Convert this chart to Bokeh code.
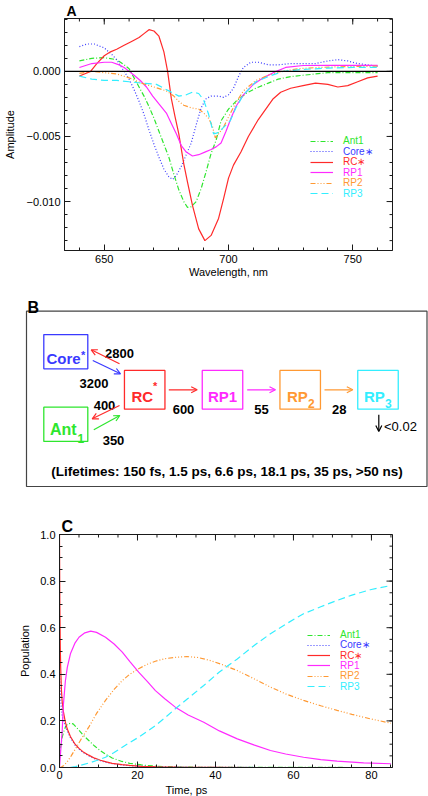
from bokeh.plotting import figure
from bokeh.models import (Range1d, FixedTicker, Span, Legend, LegendItem, Title,
                          Arrow, OpenHead, NumeralTickFormatter, CustomJSTickFormatter)
from bokeh.embed import file_html
from bokeh.resources import INLINE
from bokeh.core.properties import value

FONT = "Liberation Sans"
INK = "#1a1a1a"

# ---------------- series ----------------
names = ["Ant1", "Core\u2217", "RC\u2217", "RP1", "RP2", "RP3"]
colors = ["#2ee62e", "#3a3aff", "#ff2a2a", "#ff2aff", "#ff9933", "#33eeff"]
dashes = ["5 2 1 2", "1 2", "solid", "solid", "5 2 1 2 1 2 1 2", "7 4"]

# ---------------- panel A: spectra ----------------
ant1_wl = [640, 645, 650, 655, 658, 660, 662, 664, 666, 668, 670, 672, 674, 676, 678, 680, 682, 683.5, 685, 687,
           689, 691, 693, 695, 697, 700, 703, 707, 711, 716, 720, 725, 730, 740, 750, 760]
ant1_amp = [0.0008, 0.0010, 0.00105, 0.0009, 0.0005, 0.0002, -0.0005, -0.0012, -0.0019, -0.0027,
            -0.0036, -0.0046, -0.0056, -0.0066, -0.0079, -0.0091, -0.0100, -0.01045, -0.0104, -0.0100,
            -0.0090, -0.0077, -0.0063, -0.0053, -0.0038, -0.0029, -0.0023, -0.0017, -0.0013, -0.0009,
            -0.0006, -0.0004, -0.0003, -0.0001, -0.0001, -0.0001]

core_wl = [640, 643, 646, 650, 653, 655, 658, 660, 662, 664, 666, 668, 670, 672, 674, 676, 677.5, 679, 681, 683,
           685, 687, 689, 691, 693, 696, 698, 700, 702, 704, 706, 709, 712, 716, 720, 725, 730, 735, 740, 744,
           748, 752, 756, 760]
core_amp = [0.0019, 0.0021, 0.0021, 0.0018, 0.0013, 0.0009, 0.0000, -0.0006, -0.0014, -0.0023,
            -0.0033, -0.0045, -0.0056, -0.0066, -0.0075, -0.0081, -0.0083, -0.0080, -0.0073, -0.0064,
            -0.0055, -0.0041, -0.0028, -0.0021, -0.0019, -0.0019, -0.0020, -0.0018, -0.0013, -0.0004,
            0.0003, 0.0007, 0.0007, 0.0005, 0.0005, 0.0006, 0.0006, 0.0006, 0.0008, 0.0009,
            0.0008, 0.0006, 0.0005, 0.0004]

rc_wl = [640, 642, 644.5, 647, 650, 652.5, 655, 658, 661, 664, 666, 668, 670, 672, 674, 675.5, 677, 678.5, 680, 682,
         683.5, 685.5, 688, 690.5, 693, 696, 698, 700, 702, 705, 708, 712, 715, 718, 721, 725, 730, 735, 740, 744,
         748, 752, 756, 760]
rc_amp = [-0.00036, -0.0002, 0.0, 0.0006, 0.0012, 0.0015, 0.0017, 0.0020, 0.0023, 0.0026,
          0.0029, 0.0032, 0.0031, 0.0027, 0.0015, 0.0000, -0.0021, -0.0035, -0.0048, -0.0071,
          -0.0085, -0.0103, -0.0121, -0.0130, -0.0126, -0.0113, -0.0098, -0.0082, -0.0072, -0.0062,
          -0.0050, -0.0037, -0.0029, -0.0021, -0.0016, -0.0013, -0.0011, -0.0009, -0.0010, -0.0012,
          -0.0011, -0.0008, -0.0005, -0.00036]

rp1_wl = [640, 645, 650, 653, 656, 658, 660, 662, 664.5, 667, 669.5, 672, 675, 677, 679, 681, 683, 685.5, 688, 690.5,
          693, 695, 697, 699, 701, 703, 706, 710, 714, 718, 723, 730, 740, 750, 760]
rp1_amp = [0.0003, 0.0006, 0.0007, 0.0007, 0.0005, 0.0003, 0.0000, -0.0003, -0.0007, -0.0012,
           -0.0019, -0.0025, -0.0032, -0.0040, -0.0048, -0.0057, -0.0062, -0.0065, -0.0064, -0.0062,
           -0.0060, -0.0058, -0.0055, -0.0046, -0.0036, -0.0027, -0.0018, -0.0010, -0.0005, -0.0001,
           0.0003, 0.00045, 0.00046, 0.00046, 0.00046]

rp2_wl = [640, 645, 650, 655, 660, 665, 670, 675, 678, 680, 682, 685, 688, 690, 692, 693.5, 694.7, 696, 698, 700,
          703, 706, 711, 716, 720, 728, 736, 745, 760]
rp2_amp = [-0.00015, 0.0, -0.0001, -0.0002, -0.0005, -0.0009, -0.0012, -0.0015, -0.0019, -0.0023,
           -0.0026, -0.0028, -0.0029, -0.0032, -0.0036, -0.0042, -0.0051, -0.0048, -0.0043, -0.0035,
           -0.0024, -0.0015, -0.0007, -0.0003, -0.00005, 0.0002, 0.0003, 0.00035, 0.0004]

rp3_wl = [640, 645, 650, 655, 660, 665, 671, 676, 680, 683, 685.5, 688, 690, 692, 694, 696, 698, 700.7, 703, 706,
          711, 716, 722, 730, 740, 750, 760]
rp3_amp = [-0.00036, -0.0006, -0.0007, -0.0007, -0.0008, -0.0009, -0.0010, -0.0015, -0.0019, -0.0018,
           -0.0016, -0.0017, -0.0022, -0.0033, -0.0048, -0.0047, -0.0043, -0.0038, -0.0028, -0.0018,
           -0.0008, -0.0004, 0.0000, 0.00015, 0.00025, 0.0003, 0.0003]

a_x_major = [650, 700, 750]
a_x_minor = [640, 650, 660, 670, 680, 690, 700, 710, 720, 730, 740, 750, 760]
a_y_major = [-0.010, -0.005, 0.0]
a_y_minor = [-0.013, -0.012, -0.011, -0.010, -0.009, -0.008, -0.007, -0.006, -0.005, -0.004,
             -0.003, -0.002, -0.001, 0.0, 0.001, 0.002, 0.003, 0.004]

# ---------------- panel C: populations ----------------
ant1_t = [0, 0.3, 0.7, 1.0, 1.5, 2.0, 2.8, 3.5, 5, 6, 7.5, 9, 10.5, 12, 13.5, 16, 18, 21, 25, 30, 40, 85]
ant1_pop = [0.04, 0.09, 0.13, 0.15, 0.173, 0.185, 0.19, 0.187, 0.16, 0.14, 0.116, 0.092, 0.072, 0.055,
            0.041, 0.026, 0.018, 0.011, 0.005, 0.002, 0.0004, 0.0]

core_t = [0, 0.2, 0.4, 0.7, 1.0, 1.5, 2.0, 2.8, 4, 5, 6, 7.5, 9, 10.5, 12, 13.5, 16, 18, 21, 25, 30, 40, 50, 85]
core_pop = [0.42, 0.33, 0.27, 0.22, 0.20, 0.18, 0.158, 0.128, 0.096, 0.079, 0.065, 0.050, 0.038, 0.029,
            0.022, 0.017, 0.011, 0.008, 0.005, 0.003, 0.0015, 0.0004, 0.0001, 0.0]

rc_t = [0, 0.05, 0.1, 0.2, 0.3, 0.5, 0.7, 1.0, 1.5, 2.0, 2.8, 4, 5, 6, 7.5, 9, 10.5, 12, 13.5, 16, 18, 21, 25,
        30, 40, 50, 60, 85]
rc_pop = [1.0, 0.82, 0.68, 0.52, 0.43, 0.33, 0.28, 0.24, 0.195, 0.165, 0.133, 0.100, 0.082, 0.068, 0.053,
          0.040, 0.031, 0.024, 0.018, 0.012, 0.009, 0.005, 0.003, 0.0015, 0.0004, 0.0001, 0.0, 0.0]

rp1_t = [0, 0.3, 0.7, 1.0, 1.5, 2.0, 2.8, 4, 5, 6.5, 8, 9.5, 11.8, 14, 16.1, 18, 20.3, 22.5, 24.6, 27, 29.7,
         33, 37, 41, 45.6, 50, 54.1, 58, 62.6, 67, 71.2, 78, 85]
rp1_pop = [0, 0.07, 0.16, 0.27, 0.37, 0.43, 0.488, 0.535, 0.559, 0.578, 0.585, 0.58, 0.559, 0.53, 0.495,
           0.455, 0.409, 0.37, 0.33, 0.295, 0.259, 0.225, 0.194, 0.157, 0.123, 0.096, 0.073, 0.058, 0.044,
           0.034, 0.027, 0.02, 0.016]

rp2_t = [0, 0.5, 1.1, 2, 3, 4.1, 5.5, 7.5, 9.5, 11.8, 14, 16.1, 18, 20.3, 22.5, 24.6, 27, 29.7, 32.7, 35.5,
         38.7, 42, 45.6, 50, 54.1, 58, 62.6, 67, 71.2, 75, 79.7, 85]
rp2_pop = [0, 0.002, 0.009, 0.025, 0.05, 0.08, 0.12, 0.173, 0.232, 0.288, 0.335, 0.373, 0.4, 0.424, 0.443,
           0.456, 0.467, 0.473, 0.476, 0.472, 0.459, 0.44, 0.416, 0.38, 0.345, 0.316, 0.288, 0.265, 0.245,
           0.228, 0.209, 0.19]

rp3_t = [0, 2, 3, 4.1, 5.5, 7.5, 9.5, 11.8, 14, 16.1, 18, 20.3, 22.5, 24.6, 27, 29.7, 33, 37, 41, 45.6, 50,
         54.1, 58, 62.6, 67, 71.2, 75, 79.7, 85]
rp3_pop = [0, 0.0, 0.001, 0.004, 0.01, 0.019, 0.03, 0.044, 0.064, 0.087, 0.107, 0.13, 0.155, 0.18, 0.213,
           0.252, 0.297, 0.352, 0.41, 0.466, 0.525, 0.574, 0.615, 0.66, 0.69, 0.717, 0.74, 0.763, 0.781]

c_x_major = [0, 20, 40, 60, 80]
c_x_minor = [0, 5, 10, 15, 20, 25, 30, 35, 40, 45, 50, 55, 60, 65, 70, 75, 80, 85]
c_y_major = [0.0, 0.2, 0.4, 0.6, 0.8, 1.0]
c_y_minor = [0.0, 0.05, 0.1, 0.15, 0.2, 0.25, 0.3, 0.35, 0.4, 0.45, 0.5, 0.55, 0.6, 0.65, 0.7, 0.75,
             0.8, 0.85, 0.9, 0.95, 1.0]

# ---------------- panel B: kinetic scheme ----------------
rate_labels = ["2800", "3200", "400", "350", "600", "55", "28"]
decay_label = "<0.02"
lifetimes = ["150 fs", "1.5 ps", "6.6 ps", "18.1 ps", "35 ps", ">50 ns"]

W = 428
FRAME_W = 333      # plot-area size in pixels (A and C)
FRAME_H = 233


def style_axis(ax, major, minor, standoff=4, fs="11px"):
    ax.ticker = FixedTicker(ticks=major, minor_ticks=minor)
    ax.major_tick_in = 6
    ax.major_tick_out = 0
    ax.minor_tick_in = 3
    ax.minor_tick_out = 0
    ax.axis_line_color = INK
    ax.major_tick_line_color = INK
    ax.minor_tick_line_color = INK
    ax.major_label_text_font = FONT
    ax.major_label_text_color = "black"
    ax.major_label_text_font_size = fs
    ax.major_label_standoff = standoff
    ax.axis_label_text_font = FONT
    ax.axis_label_text_font_style = "normal"
    ax.axis_label_text_font_size = "11px"
    ax.axis_label_text_color = "black"


def mirror_ticks(p, xr, yr, xmaj, xmin, ymaj, ymin):
    """inward tick marks on the top and right edges of the frame"""
    dx = (xr.end - xr.start) / FRAME_W
    dy = (yr.end - yr.start) / FRAME_H
    for ticks, ln in ((xmin, 3), (xmaj, 6)):
        p.segment(x0=ticks, y0=[yr.end] * len(ticks), x1=ticks, y1=[yr.end - ln * dy] * len(ticks),
                  line_color=INK, line_width=1)
    for ticks, ln in ((ymin, 3), (ymaj, 6)):
        p.segment(x0=[xr.end] * len(ticks), y0=ticks, x1=[xr.end - ln * dx] * len(ticks), y1=ticks,
                  line_color=INK, line_width=1)


def add_row_legends(p, renderers, vx, top_vy, step):
    for i, r in enumerate(renderers):
        lg = Legend(items=[LegendItem(label=names[i], renderers=[r])],
                    location=(vx, top_vy - i * step),
                    padding=0, margin=0, spacing=0,
                    glyph_width=23, glyph_height=10, label_height=10, label_standoff=10,
                    label_text_font=FONT, label_text_font_size="10px",
                    label_text_color=colors[i],
                    border_line_alpha=0, background_fill_alpha=0)
        p.add_layout(lg)


def panel_title(p, letter, size):
    p.title.text = letter
    p.title.align = "left"
    p.title.offset = 2
    p.title.standoff = 0
    p.title.text_font = FONT
    p.title.text_font_size = size
    p.title.text_font_style = "bold"
    p.title.text_color = "black"


# ================= Panel A =================
xrA = Range1d(634, 766)
yrA = Range1d(-0.01376, 0.00406)
pA = figure(width=W, height=290, x_range=xrA, y_range=yrA,
            output_backend="svg", toolbar_location=None,
            min_border_left=59, min_border_right=36, min_border_top=17, min_border_bottom=40)
pA.grid.visible = False
pA.outline_line_color = INK
pA.background_fill_color = "white"
panel_title(pA, "A", "14px")

style_axis(pA.xaxis[0], a_x_major, a_x_minor, standoff=4)
pA.xaxis[0].axis_label = "Wavelength, nm"
pA.xaxis[0].axis_label_standoff = 0
style_axis(pA.yaxis[0], a_y_major, a_y_minor, standoff=4)
pA.yaxis[0].axis_label = "Amplitude"
pA.yaxis[0].axis_label_standoff = 8
pA.yaxis[0].formatter = CustomJSTickFormatter(
    code="return (tick < -1e-9 ? '\u2212' : '') + Math.abs(tick).toFixed(3);")

mirror_ticks(pA, xrA, yrA, a_x_major, a_x_minor, a_y_major, a_y_minor)
pA.add_layout(Span(location=0, dimension="width", line_color="black", line_width=1.3))

a_series = [(ant1_wl, ant1_amp), (core_wl, core_amp), (rc_wl, rc_amp),
            (rp1_wl, rp1_amp), (rp2_wl, rp2_amp), (rp3_wl, rp3_amp)]
a_r = []
for i, (xs, ys) in enumerate(a_series):
    a_r.append(pA.line(xs, ys, line_color=colors[i], line_width=1.2, line_dash=dashes[i]))

add_row_legends(pA, a_r, vx=246, top_vy=104, step=10.5)

# ================= Panel B =================
pB = figure(width=W, height=206, x_range=Range1d(0, 428), y_range=Range1d(496, 290),
            x_axis_type=None, y_axis_type=None, output_backend="svg", toolbar_location=None,
            min_border=0, min_border_left=0, min_border_right=0, min_border_top=0, min_border_bottom=0)
pB.outline_line_color = None
pB.background_fill_color = "white"

# layout of the scheme (page pixels)
frame_box = dict(left=26, right=426.5, top=310.7, bottom=486)
pB.quad(left=[frame_box["left"]], right=[frame_box["right"]], top=[frame_box["top"]],
        bottom=[frame_box["bottom"]], fill_color=None, line_color="#444444", line_width=1.2)

c_core, c_ant, c_rc, c_rp1, c_rp2, c_rp3 = colors[1], colors[0], colors[2], colors[3], colors[4], colors[5]
box_x = [65.3, 65.3, 144.2, 222.0, 299.7, 377.5]
box_y = [351.2, 423.8, 389.3, 389.3, 389.3, 389.3]
box_w = [44, 44, 40.5, 40.5, 40.5, 40.5]
box_h = [34.3, 34.3, 38.7, 38.7, 38.7, 38.7]
box_c = [c_core, c_ant, c_rc, c_rp1, c_rp2, c_rp3]
pB.rect(x=box_x, y=box_y, width=box_w, height=box_h, fill_color=None, line_color=box_c, line_width=1.3)

# state labels
pB.text(x=[46, 131, 286.5, 363.5], y=[357.7, 396, 396, 396], text=["Core", "RC", "RP", "RP"],
        text_color=[c_core, c_rc, c_rp2, c_rp3], text_font=value(FONT), text_font_size="15px",
        text_font_style="bold", text_align="left", text_baseline="alphabetic")
pB.text(x=[49.5], y=[429.3], text=["Ant"], text_color=[c_ant], text_font=value(FONT),
        text_font_size="16px", text_font_style="bold", text_align="left", text_baseline="alphabetic")
pB.text(x=[222], y=[396], text=["RP1"], text_color=[c_rp1], text_font=value(FONT),
        text_font_size="15px", text_font_style="bold", text_align="center", text_baseline="alphabetic")
pB.text(x=[77, 307.5, 384.5], y=[438.3, 403.3, 403.3], text=["1", "2", "3"],
        text_color=[c_ant, c_rp2, c_rp3], text_font=value(FONT), text_font_size="12px",
        text_font_style="bold", text_align="left", text_baseline="alphabetic")
pB.text(x=[80.5, 152.5], y=[354.6, 385.5], text=["*", "*"], text_color=[c_core, c_rc],
        text_font=value(FONT), text_font_size="11px", text_font_style="bold",
        text_align="left", text_baseline="alphabetic")

# rate constants
pB.text(x=[119, 93.5, 104, 113, 183, 261, 338.7], y=[353, 383.3, 405, 440, 409.3, 409.3, 409.3],
        text=rate_labels, text_color="black", text_font=value(FONT), text_font_size="13px",
        text_font_style="bold", text_align="center", text_baseline="alphabetic")
pB.text(x=[383.5], y=[426], text=[decay_label], text_color="black", text_font=value(FONT),
        text_font_size="13px", text_font_style="normal", text_align="left", text_baseline="alphabetic")
pB.text(x=[226.5], y=[471], text=["(Lifetimes: " + ", ".join(lifetimes) + ")"], text_color="black",
        text_font=value(FONT), text_font_size="13.5px", text_font_style="bold",
        text_align="center", text_baseline="alphabetic")
pB.text(x=[27], y=[306.7], text=["B"], text_color="black", text_font=value(FONT),
        text_font_size="16px", text_font_style="bold", text_align="left", text_baseline="alphabetic")

arrows = [
    (119, 363.3, 90.7, 349.3, c_rc),
    (92.3, 360, 120, 373.3, c_core),
    (119, 405, 91.7, 418.3, c_rc),
    (93.3, 429.3, 119.3, 415, c_ant),
    (168.3, 389.3, 196.7, 389.3, c_rc),
    (246.7, 389.3, 275, 389.3, c_rp1),
    (324, 389.3, 352.3, 389.3, c_rp2),
    (378.3, 414.3, 378.3, 431, "black"),
]
for x0, y0, x1, y1, c in arrows:
    pB.add_layout(Arrow(end=OpenHead(size=6, line_color=c, line_width=1.2),
                        x_start=x0, y_start=y0, x_end=x1, y_end=y1,
                        line_color=c, line_width=1.2))

# ================= Panel C =================
xrC = Range1d(0, 85.4)
yrC = Range1d(0, 1.0)
pC = figure(width=W, height=300, x_range=xrC, y_range=yrC,
            output_backend="svg", toolbar_location=None,
            min_border_left=59, min_border_right=36, min_border_top=38, min_border_bottom=29)
pC.grid.visible = False
pC.outline_line_color = INK
pC.background_fill_color = "white"
panel_title(pC, "C", "16px")

style_axis(pC.xaxis[0], c_x_major, c_x_minor, standoff=3)
style_axis(pC.yaxis[0], c_y_major, c_y_minor, standoff=4)
pC.yaxis[0].formatter = NumeralTickFormatter(format="0.0")
pC.yaxis[0].axis_label = "Population"
pC.yaxis[0].axis_label_standoff = 6
mirror_ticks(pC, xrC, yrC, c_x_major, c_x_minor, c_y_major, c_y_minor)

c_series = [(ant1_t, ant1_pop), (core_t, core_pop), (rc_t, rc_pop),
            (rp1_t, rp1_pop), (rp2_t, rp2_pop), (rp3_t, rp3_pop)]
c_r = []
for i, (xs, ys) in enumerate(c_series):
    c_r.append(pC.line(xs, ys, line_color=colors[i], line_width=1.2, line_dash=dashes[i]))

add_row_legends(pC, c_r, vx=248, top_vy=127, step=10.3)

pC.add_layout(Title(text="Time, ps", align="left", offset=106, standoff=0,
                    text_font=FONT, text_font_size="11px", text_font_style="normal",
                    text_color="black"), "below")

open("out.html", "w").write(file_html([pA, pB, pC], INLINE))
